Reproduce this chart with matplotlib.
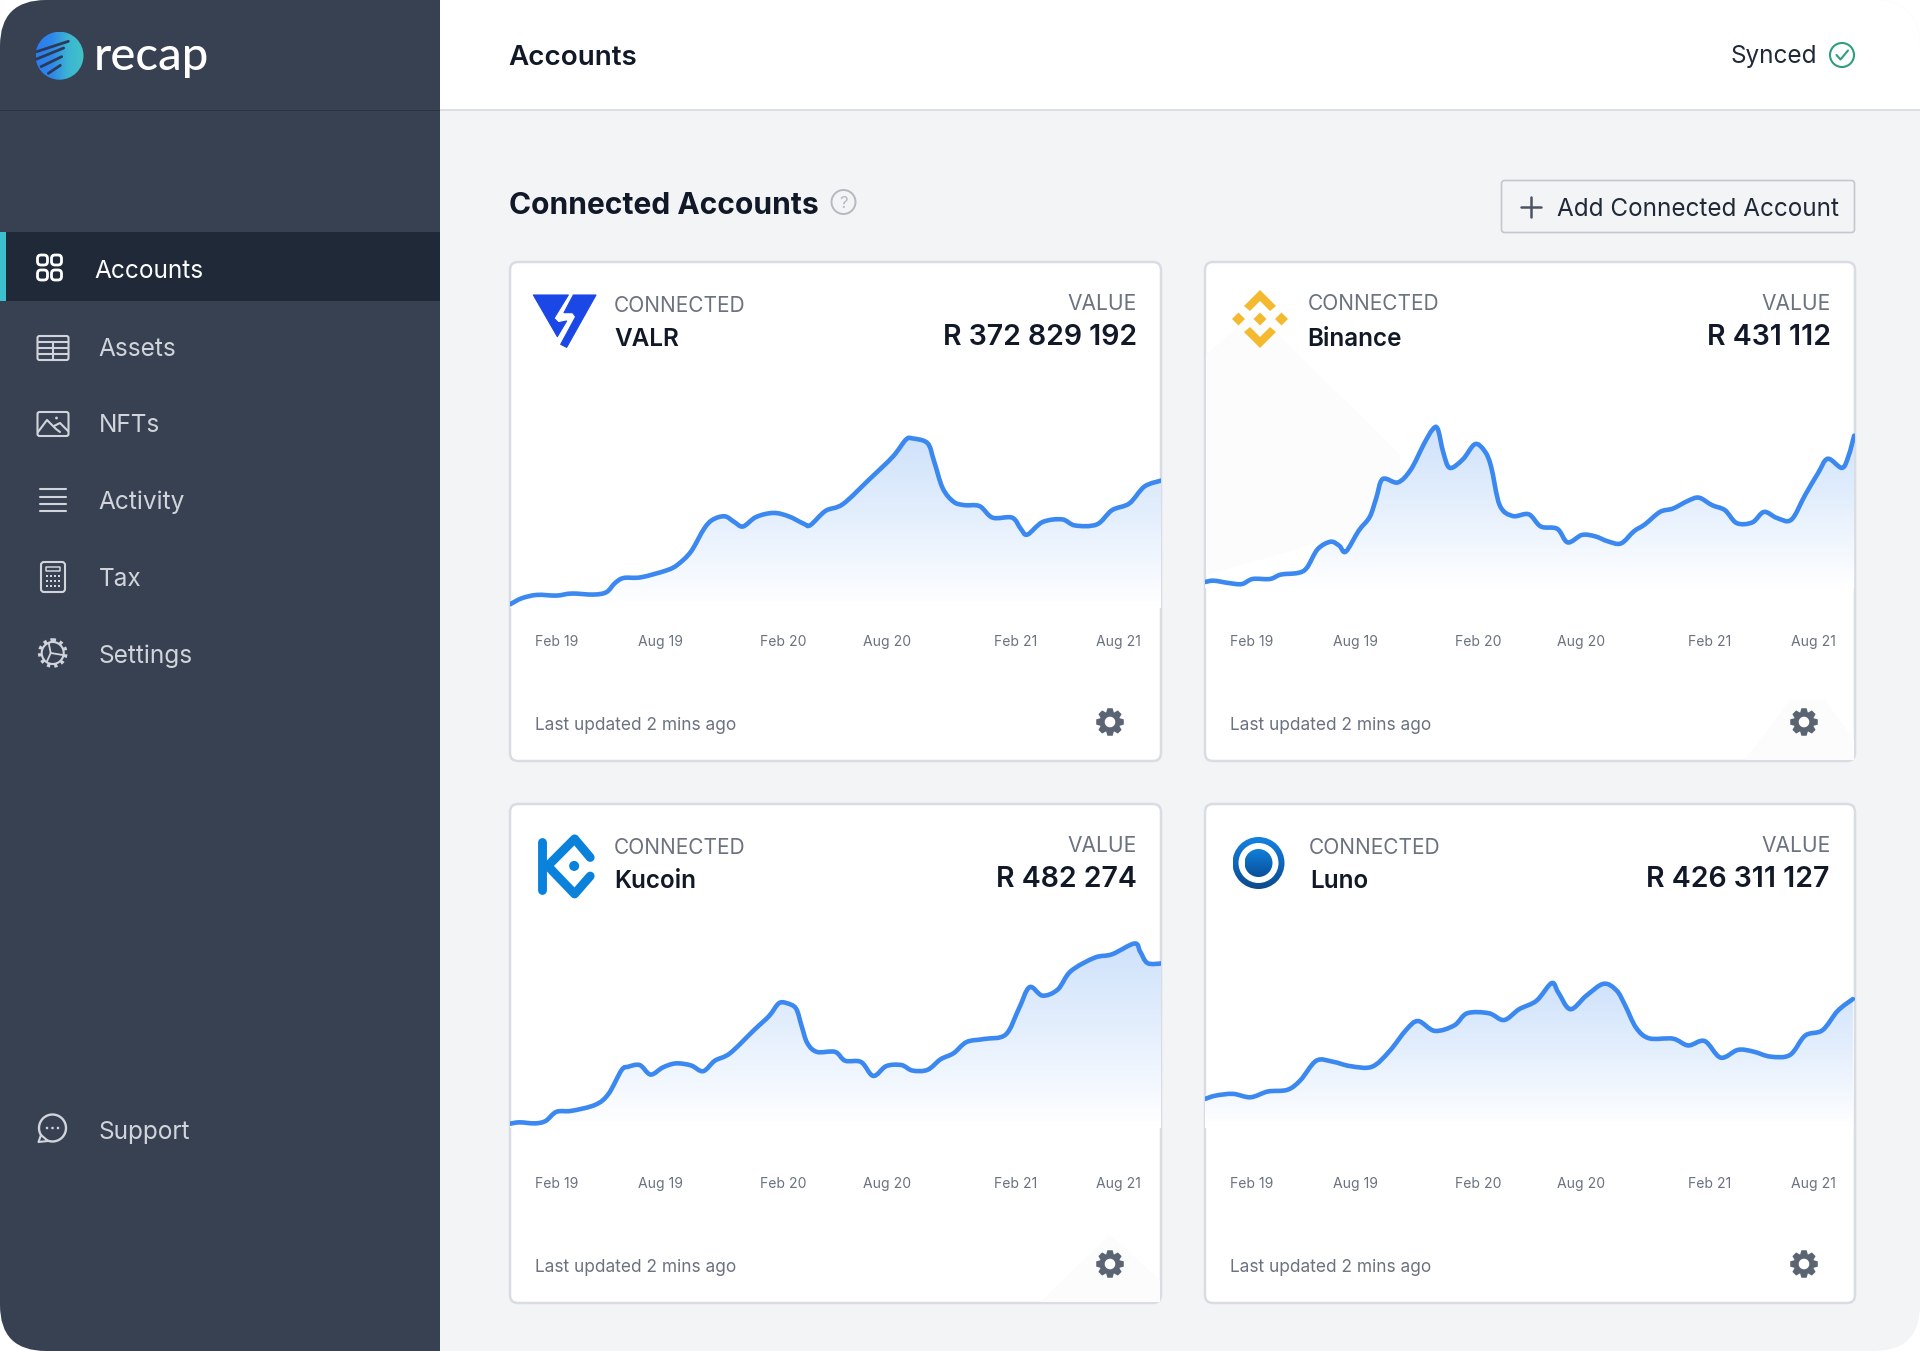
import numpy as np
import matplotlib
matplotlib.use("Agg")
from matplotlib import pyplot as plt
from matplotlib import colors as mcolors
from matplotlib.patches import FancyBboxPatch, Circle, Polygon, Rectangle, PathPatch
from matplotlib.path import Path

plt.rcParams['font.family'] = ['Inter', 'DejaVu Sans']

# data
tick_pos = [107, 347, 630, 868, 1165, 1403]
tick_labels = ["Feb 19", "Aug 19", "Feb 20", "Aug 20", "Feb 21", "Aug 21"]

valr_x = [0, 27, 62, 107, 142, 192, 222, 242, 262, 302, 362, 387, 417, 447, 467, 495, 517, 537, 567, 607, 642, 677, 692,
          727, 767, 827, 882, 912, 927, 962, 977, 997, 1022, 1047, 1082, 1112, 1157, 1177, 1192, 1227, 1272, 1302, 1352,
          1387, 1427, 1462, 1502]
valr_y = [52, 70, 80, 78, 84, 81, 88, 115, 130, 132, 153, 170, 208, 275, 302, 312, 295, 282, 310, 322, 312, 290, 286,
          328, 348, 420, 488, 538, 542, 528, 475, 395, 355, 345, 342, 308, 308, 275, 258, 295, 303, 285, 288,
          330, 350, 400, 418]

binance_x = [0, 20, 55, 85, 110, 150, 175, 215, 235, 260, 290, 310, 325, 355, 380, 395, 410, 445, 475, 505, 525, 537,
             550, 565, 595, 623, 645, 660, 680, 710, 747, 775, 813, 837, 870, 900, 930, 960, 990, 1015, 1050, 1080,
             1115, 1140, 1170, 1200, 1227, 1263, 1290, 1320, 1353, 1385, 1415, 1437, 1470, 1485, 1498]
binance_y = [118, 122, 115, 112, 127, 127, 140, 145, 160, 215, 237, 225, 208, 270, 310, 365, 422, 412, 450, 525, 568, 570,
             500, 455, 480, 525, 505, 460, 345, 313, 318, 282, 275, 235, 257, 253, 238, 232, 268, 288, 325, 335,
             358, 367, 345, 330, 292, 294, 325, 307, 302, 375, 440, 482, 455, 490, 550]

kucoin_x = [0, 22, 57, 82, 107, 142, 197, 227, 257, 272, 299, 324, 352, 382, 417, 445, 472, 507, 562, 597, 619, 637,
            659, 672, 685, 707, 749, 772, 809, 837, 867, 902, 927, 962, 992, 1022, 1052, 1092, 1142, 1172, 1197, 1227,
            1262, 1292, 1347, 1387, 1439, 1452, 1469, 1502]
kucoin_y = [119, 123, 120, 127, 154, 157, 175, 207, 277, 287, 292, 264, 285, 297, 291, 274, 305, 327, 395, 437, 474, 475,
            459, 407, 357, 331, 331, 305, 301, 260, 289, 292, 276, 278, 309, 327, 360, 369, 382, 457, 522, 497,
            515, 569, 609, 619, 651, 627, 593, 592]

luno_x = [0, 25, 65, 105, 145, 190, 220, 257, 295, 335, 385, 425, 465, 492, 530, 575, 605, 655, 690, 725, 765, 800,
          815, 843, 880, 920, 950, 970, 995, 1025, 1080, 1115, 1153, 1190, 1230, 1265, 1305, 1350, 1385, 1425, 1460, 1495]
luno_y = [192, 202, 207, 197, 214, 219, 247, 305, 302, 289, 287, 332, 397, 422, 393, 409, 445, 445, 425, 457, 482, 534,
          507, 457, 497, 532, 512, 467, 402, 371, 370, 350, 363, 314, 337, 332, 317, 322, 379, 395, 452, 487]

names = ["VALR", "Binance", "Kucoin", "Luno"]
amounts = ["R 372 829 192", "R 431 112", "R 482 274", "R 426 311 127"]
nav_labels = ["Accounts", "Assets", "NFTs", "Activity", "Tax", "Settings"]

SIDE = "#384152"
DARK = "#1f2937"
GREY = "#6b7280"
INK = "#111827"
NAVTXT = "#d1d5db"
BLUE = "#3a88f0"

fig = plt.figure(figsize=(19.2, 13.51), dpi=100, facecolor="white")
bg = fig.add_axes([0, 0, 1, 1])
bg.axis("off")
W, H = 1920, 1351
window = FancyBboxPatch((0, 0), W, H, boxstyle="round,pad=0,rounding_size=46", fc="none", ec="none")
bg.add_patch(window)


def rr(x0, y0, x1, y1, r, fc="none", ec="none", lw=0, z=2):
    p = FancyBboxPatch((x0, y0), x1 - x0, y1 - y0, boxstyle=f"round,pad=0,rounding_size={r}",
                       fc=fc, ec=ec, lw=lw, zorder=z)
    bg.add_patch(p)
    return p


def rect(x0, y0, x1, y1, c, z=1):
    p = Rectangle((x0, y0), x1 - x0, y1 - y0, fc=c, ec="none", zorder=z)
    bg.add_patch(p)
    p.set_clip_path(window)
    return p


def seg(xs, ys, c=NAVTXT, lw=1.5, z=3):
    return bg.plot(xs, ys, color=c, lw=lw, zorder=z, solid_capstyle="round", solid_joinstyle="round")[0]


def gear(cx, cy, r, c="#5b6472", teeth=8):
    pts = []
    for i in range(teeth):
        a = 2 * np.pi * i / teeth
        w = np.pi / teeth
        pts += [(a - w * 0.95, 0.74), (a - w * 0.48, 1.0), (a + w * 0.48, 1.0), (a + w * 0.95, 0.74)]
    outer = [(cx + r * m * np.cos(a), cy + r * m * np.sin(a)) for a, m in pts]
    ang = np.linspace(0, 2 * np.pi, 30)[::-1]
    hole = [(cx + 0.38 * r * np.cos(a), cy + 0.38 * r * np.sin(a)) for a in ang]
    verts = outer + [outer[0]] + hole + [hole[0]]
    codes = [Path.MOVETO] + [Path.LINETO] * (len(outer) - 1) + [Path.CLOSEPOLY]
    codes += [Path.MOVETO] + [Path.LINETO] * (len(hole) - 1) + [Path.CLOSEPOLY]
    bg.add_patch(PathPatch(Path(verts, codes), fc=c, ec="none", zorder=4))


def grad_circle(cx, cy, r, cols, vertical=True, z=3):
    n = 64
    g = np.linspace(0, 1, n)
    g = g[:, None] if vertical else g[None, :]
    cmap = mcolors.LinearSegmentedColormap.from_list("", cols)
    im = bg.imshow(g, cmap=cmap, extent=(cx - r, cx + r, cy + r, cy - r), aspect="auto", zorder=z)
    c = Circle((cx, cy), r, fc="none", ec="none", zorder=z)
    bg.add_patch(c)
    im.set_clip_path(c)
    return c


def smooth_path(xs, ys):
    # curve that goes through every read point
    p = np.column_stack([xs, ys]).astype(float)
    verts = [p[0]]
    codes = [Path.MOVETO]
    for k in range(len(p) - 1):
        a = p[max(k - 1, 0)]
        b = p[k]
        c = p[k + 1]
        d = p[min(k + 2, len(p) - 1)]
        verts += [b + (c - a) / 6, c - (d - b) / 6, c]
        codes += [Path.CURVE4] * 3
    return verts, codes


# window frame
rect(0, 0, W, H, "#f3f4f6")
rect(440, 0, W, 110, "white", z=1.1)
rect(440, 109, W, 111, "#dcdfe4", z=1.2)
rect(0, 0, 440, H, SIDE, z=1.3)
rect(0, 109.5, 440, 111, "#293140", z=1.4)
rect(0, 232, 440, 301, DARK, z=1.5)
rect(0, 232, 6, 301, "#3cbfcf", z=1.6)

# logo
circ = grad_circle(59.5, 55.7, 24, ["#2b7cf0", "#2f88ea", "#3cb4d2", "#40c4c8"], vertical=False)
lx = lambda v: 25 + v / 3
ly = lambda v: 20 + v / 3
for a, b, c, d in [(35, 95, 130, 64), (33, 118, 116, 84), (48, 140, 110, 110), (70, 160, 106, 136)]:
    ln = seg([lx(a), lx(c)], [ly(b), ly(d)], c="#2c3a58", lw=2.0, z=4)
    ln.set_clip_path(circ)
bg.text(94, 56.5, "recap", color="white", fontsize=34, family="Lato", weight="medium", ha="left", va="center", zorder=5)

# nav
nav_y = [271, 350, 426, 502.5, 579, 656]
for i, (lab, y) in enumerate(zip(nav_labels, nav_y)):
    bg.text(94.5 if i == 0 else 98.5, y, lab, color="white" if i == 0 else NAVTXT, fontsize=17.6,
            ha="left", va="center", zorder=5)
bg.text(98, 1132, "Support", color=NAVTXT, fontsize=17.6, ha="left", va="center", zorder=5)

# nav icons
for cx in (42.5, 56.5):
    for cy in (260, 275):
        rr(cx - 5, cy - 5, cx + 5, cy + 5, 3.5, ec="white", lw=2, z=4)
rr(37.5, 336, 68.5, 360, 2, ec=NAVTXT, lw=1.5)
for y in (342, 348, 354):
    seg([38, 68], [y, y])
seg([53, 53], [342, 360])
rr(37.5, 412, 68.5, 436, 2, ec=NAVTXT, lw=1.5)
seg([38, 47, 56, 60], [432, 420, 429, 432])
seg([54, 60, 68], [426, 423, 431])
bg.add_patch(Circle((56.5, 418), 1.4, fc=NAVTXT, ec="none", zorder=4))
for y in (489, 497, 504, 511):
    seg([39.5, 65.5], [y, y])
rr(41, 562, 65, 592, 3, ec=NAVTXT, lw=1.5)
rr(46, 567, 60, 571, 0.5, ec=NAVTXT, lw=1.1)
for col in range(4):
    for row in range(3):
        bg.add_patch(Rectangle((46 + col * 4, 575 + row * 5), 2, 2, fc=NAVTXT, ec="none", zorder=4))
bg.add_patch(Circle((52.7, 653), 11, fc="none", ec=NAVTXT, lw=1.5, zorder=4))
bg.add_patch(Circle((52.7, 653), 13, fc="none", ec=NAVTXT, lw=2.6, ls=(0, (0.9, 1.1)), zorder=4))
for dx, dy in [(-4, -10), (10, 2), (-6, 9)]:
    seg([50.7, 52.7 + dx], [653, 653 + dy], lw=1.3)
# support bubble
bg.add_patch(Circle((52.5, 1128), 13.5, fc="none", ec=NAVTXT, lw=1.7, zorder=4))
bg.add_patch(Polygon([(41, 1135), (38.5, 1142), (48, 1141)], fc=SIDE, ec=NAVTXT, lw=1.5, joinstyle="round", zorder=4))
for dx in (-5.5, 0, 5.5):
    bg.add_patch(Circle((52.5 + dx, 1128), 1.3, fc=NAVTXT, ec="none", zorder=5))

# header
bg.text(508.5, 58, "Accounts", color=INK, fontsize=20, weight="semibold", ha="left", va="center", zorder=5)
bg.text(1817, 57, "Synced", color=DARK, fontsize=17.5, ha="right", va="center", zorder=5)
bg.add_patch(Circle((1842, 55), 12, fc="none", ec="#2e9e7f", lw=1.5, zorder=4))
seg([1836.5, 1840.5, 1848], [55, 59.5, 50.5], c="#2e9e7f", lw=1.5)

bg.text(509, 206, "Connected Accounts", color=INK, fontsize=21.6, weight="bold", ha="left", va="center", zorder=5)
bg.add_patch(Circle((843.5, 202), 12, fc="none", ec="#b5b9c0", lw=1.4, zorder=4))
bg.text(843.5, 203, "?", color="#b5b9c0", fontsize=12, ha="center", va="center", zorder=5)

rr(1501.5, 180.5, 1854.5, 232.5, 3, fc="#f3f4f6", ec="#c3c7ce", lw=1.2)
seg([1521, 1541], [207, 207], c="#4b5563", lw=1.8)
seg([1531, 1531], [197, 217], c="#4b5563", lw=1.8)
bg.text(1557, 209, "Add Connected Account", color=DARK, fontsize=17.45, ha="left", va="center", zorder=5)

# cards
card_boxes = [(510, 262, 1161, 761), (1205, 262, 1855, 761), (510, 804, 1161, 1303), (1205, 804, 1855, 1303)]
series = [(valr_x, valr_y), (binance_x, binance_y), (kucoin_x, kucoin_y), (luno_x, luno_y)]
fade_floor = [40, 100, 105, 105]
conn_pos = [(614, 306), (1308, 304), (614, 848), (1309, 848)]
name_pos = [(614.5, 340), (1307, 340), (614.5, 882), (1310.5, 882)]
value_right = [1137, 1831, 1137, 1831]
amount_right = [1137, 1831, 1136.5, 1829]

for i, (x0, y0, x1, y1) in enumerate(card_boxes):
    rr(x0, y0, x1, y1, 8, fc="white", ec="#d9dce2", lw=1.8, z=2)
    top = y0
    bg.text(*conn_pos[i], "CONNECTED", color=GREY, fontsize=15, ha="left", va="center", zorder=5)
    bg.text(*name_pos[i], names[i], color=INK, fontsize=17.5, weight="semibold", ha="left", va="center", zorder=5)
    bg.text(value_right[i], top + 42, "VALUE", color=GREY, fontsize=15.1, ha="right", va="center", zorder=5)
    bg.text(amount_right[i], top + 75.5, amounts[i], color=INK, fontsize=20.5, weight="semibold",
            ha="right", va="center", zorder=5)
    bg.text(x0 + 25, top + 463, "Last updated 2 mins ago", color=GREY, fontsize=12.45, ha="left", va="center", zorder=5)
    gear(x1 - 51, top + 460, 14)

    # chart
    ax = fig.add_axes([x0 / W, 1 - (y0 + 360) / H, (x1 - x0) / W, 271 / H])
    ax.patch.set_alpha(0)
    xs, ys = series[i]
    floor = fade_floor[i]
    ceil = max(ys)
    cmap = mcolors.LinearSegmentedColormap.from_list("", ["#cfe2fb", "#e6f0fd", "#ffffff"])
    im = ax.imshow(np.linspace(0, 1, 128)[:, None], cmap=cmap, extent=(0, 1500, floor, ceil),
                   aspect="auto", zorder=1)
    v, c = smooth_path(xs, ys)
    area = Path(v + [(xs[-1], 0), (xs[0], 0), v[0]], c + [Path.LINETO, Path.LINETO, Path.CLOSEPOLY])
    poly = PathPatch(area, transform=ax.transData, fc="none", ec="none")
    ax.add_patch(poly)
    im.set_clip_path(poly)
    ax.add_patch(PathPatch(Path(v, c), fc="none", ec=BLUE, lw=3.3, joinstyle="round", capstyle="round", zorder=3))
    ax.set_xlim(0, 1500)
    ax.set_ylim(0, 800)
    for s in ax.spines.values():
        s.set_visible(False)
    ax.set_yticks([])
    ax.set_xticks(tick_pos)
    ax.set_xticklabels(tick_labels, fontsize=10.1, color=GREY)
    ax.tick_params(axis="x", length=0, pad=9.7)

# VALR logo
vx = lambda v: 525 + v / 3
vy = lambda v: 285 + v / 3
VAL = "#1a47e5"
left_part = [(25, 30), (130, 30), (87, 100), (100, 113), (125, 108), (97, 155)]
right_part = [(145, 30), (213, 30), (125, 187), (107, 178), (152, 95), (143, 83), (117, 83)]
for part in (left_part, right_part):
    bg.add_patch(Polygon([(vx(a), vy(b)) for a, b in part], fc=VAL, ec=VAL, lw=0.8, joinstyle="round", zorder=4))

# Binance logo
cx, cy = 1260, 319
YEL = "#f3ba2f"
for dx in (-21.5, 0, 21.5):
    bg.add_patch(Polygon([(cx + dx - 6.5, cy), (cx + dx, cy - 6.5), (cx + dx + 6.5, cy), (cx + dx, cy + 6.5)],
                         fc=YEL, ec="none", zorder=4))
for s in (-1, 1):
    bg.add_patch(Polygon([(cx, cy + s * 29), (cx + 16, cy + s * 13), (cx + 10, cy + s * 8), (cx, cy + s * 18),
                          (cx - 10, cy + s * 8), (cx - 16, cy + s * 13)], fc=YEL, ec="none", zorder=4))

# Kucoin logo
kx = lambda v: 500 + v / 2.306
ky = lambda v: 800 + v / 2.958
KU = "#0a82dc"
seg([kx(96), kx(96)], [ky(125), ky(265)], c=KU, lw=6.4, z=4)
seg([kx(208), kx(172), kx(110), kx(172), kx(208)], [ky(170), ky(115), ky(195), ky(278), ky(225)], c=KU, lw=6.4, z=4)
bg.add_patch(Circle((kx(171), ky(195)), 5, fc=KU, ec="none", zorder=4))

# Luno logo
grad_circle(1258.5, 863, 26, ["#1283e0", "#0f66bd", "#0c4a8c"])
bg.add_patch(Circle((1258.5, 863), 20, fc="white", ec="none", zorder=4))
grad_circle(1258.5, 863, 14, ["#0f7fd8", "#0a4f9c"], z=5)

# faint background shapes, seen behind Binance and the lower gears
bg.add_patch(Polygon([(1206, 355), (1255, 312), (1400, 455), (1400, 520), (1206, 575)], fc="#fcfcfc", ec="none", zorder=2.5))
bg.add_patch(Polygon([(1745, 760), (1790, 700), (1825, 700), (1854, 740), (1854, 760)], fc="#fcfcfc", ec="none", zorder=2.5))
bg.add_patch(Polygon([(1040, 1302), (1110, 1235), (1160, 1280), (1160, 1302)], fc="#fcfcfc", ec="none", zorder=2.5))

bg.set_xlim(0, W)
bg.set_ylim(H, 0)

fig.savefig("out.png", dpi=100)
